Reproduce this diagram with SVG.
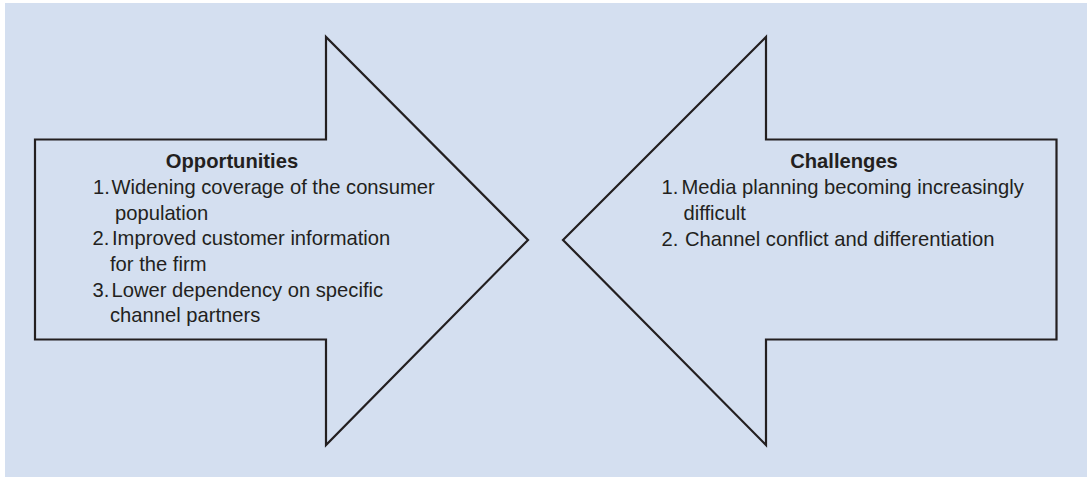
<svg xmlns="http://www.w3.org/2000/svg" width="1087" height="477" viewBox="0 0 1087 477">
<style>
.arrow{fill:#d4dff0;stroke:#231f20;stroke-width:2.2;stroke-linejoin:miter}
text{font-family:"Liberation Sans",Arial,sans-serif;font-size:20.2px;fill:#231f20}
.title{font-weight:bold;text-anchor:middle}
</style>
<rect x="5" y="3" width="1082" height="474" fill="#d4dff0"/>
<g id="opportunities">
<path class="arrow" d="M35,139.5 L326,139.5 L326,37 L528,240 L326,445 L326,339.5 L35,339.5 Z"/>
<text class="title" x="232" y="168">Opportunities</text>
<text x="93" y="193.5">1.</text><text x="111.5" y="193.5">Widening coverage of the consumer</text>
<text x="115" y="219.5">population</text>
<text x="92.5" y="245">2.</text><text x="112" y="245">Improved customer information</text>
<text x="110" y="271">for the firm</text>
<text x="92.5" y="296.5">3.</text><text x="111.5" y="296.5">Lower dependency on specific</text>
<text x="110" y="322">channel partners</text>
</g>
<g id="challenges">
<path class="arrow" d="M1056.5,139.5 L766,139.5 L766,37 L563,240 L766,445 L766,339.5 L1056.5,339.5 Z"/>
<text class="title" x="844" y="168">Challenges</text>
<text x="661.5" y="194">1.</text><text x="681.5" y="194">Media planning becoming increasingly</text>
<text x="683.5" y="220">difficult</text>
<text x="661.5" y="245.5">2.</text><text x="685" y="245.5">Channel conflict and differentiation</text>
</g>
<g id="connectors"/>
</svg>
